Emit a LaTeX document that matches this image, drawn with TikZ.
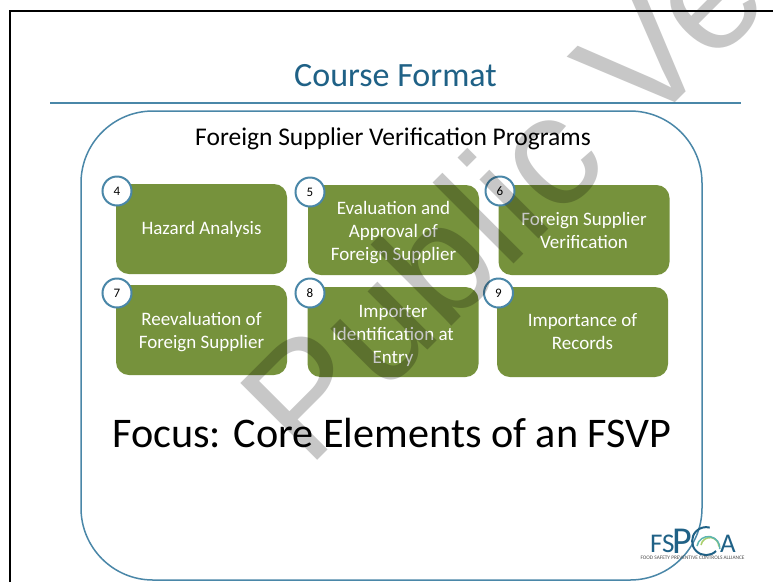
\documentclass[tikz,border=0pt]{standalone}
\usepackage{fontspec}
\setmainfont{Carlito}
\newfontfamily\wmfont{Liberation Sans}
\definecolor{titleblue}{HTML}{1F6186}
\definecolor{lineblue}{HTML}{4A87A8}
\definecolor{boxgreen}{HTML}{76923C}
\definecolor{logoteal}{HTML}{5DB5B0}
\definecolor{logogreen}{HTML}{A9CF6B}
\tikzset{
    itembox/.style={fill=boxgreen, rounded corners=13pt, minimum width=171pt, minimum height=90pt,
        inner sep=0pt, text=white, align=center, font=\fontsize{19}{23}\selectfont},
    numcircle/.style={circle, draw=lineblue, line width=2pt, fill=white, minimum size=29pt,
        inner sep=0pt, font=\fontsize{13}{13}\selectfont},
    logotype/.style={text=titleblue, anchor=base west, inner sep=0pt}
}
\begin{document}
\begin{tikzpicture}[x=1pt,y=-1pt]
    \useasboundingbox (0,0) rectangle (773,582);
    \fill[white] (0,0) rectangle (773,582);
    \draw[line width=1.5pt] (10,582) -- (10,11) -- (773,11);
    \node[text=titleblue, font=\fontsize{34}{34}\selectfont] (title) at (395.5,76) {Course Format};
    \draw[lineblue, line width=1.2pt] (50,103) -- (741,103);
    \draw[lineblue, line width=1.5pt, rounded corners=72pt] (81,111) rectangle (702,580);
    \node[font=\fontsize{25.5}{25.5}\selectfont] (heading) at (393,139) {Foreign Supplier Verification Programs};
    % first row
    \node[itembox] (hazard) at (201.5,229) {Hazard Analysis};
    \node[itembox] (approval) at (393.5,230) {\rule{0pt}{18pt}Evaluation and\\Approval of\\Foreign Supplier};
    \node[itembox] (verify) at (584,230) {Foreign Supplier\\Verification};
    % second row
    \node[itembox] (reeval) at (201.5,330) {\rule{0pt}{18pt}Reevaluation of\\Foreign Supplier};
    \node[itembox] (entry) at (393,332) {\rule{0pt}{20pt}Importer\\Identification at\\Entry};
    \node[itembox] (records) at (582.5,332) {Importance of\\Records};
    % numbers
    \node[numcircle] (n4) at (117,191) {4};
    \node[numcircle] (n5) at (310,192) {5};
    \node[numcircle] (n6) at (500,191) {6};
    \node[numcircle] (n7) at (117,293) {7};
    \node[numcircle] (n8) at (310,293) {8};
    \node[numcircle] (n9) at (498.5,293) {9};
    \node[font=\fontsize{42.2}{42}\selectfont] (focus) at (392,433) {Focus: Core Elements of an FSVP};
    % logo
    \node[logotype, font=\fontsize{27}{27}\selectfont] (logofs) at (650,552) {FS};
    \node[logotype, font=\fontsize{38}{38}\selectfont] (logop) at (672,553) {P};
    \draw[logogreen, line width=1.5pt] (701,545) arc (190:360:9);
    \draw[logoteal, line width=1.5pt] (697,546) arc (190:365:11.5);
    \draw[titleblue, line width=2pt] (716,551) arc (45:285:14);
    \node[logotype, font=\fontsize{27}{27}\selectfont] (logoa) at (720,552) {A};
    \node[text=black!70, font=\fontsize{5.3}{5.3}\selectfont] (logotext) at (692.5,558) {FOOD SAFETY PREVENTIVE CONTROLS ALLIANCE};
    % watermark
    \begin{scope}[blend mode=multiply]
    \clip (0,0) rectangle (773,582);
    \node[text=black!22, font=\wmfont\fontsize{158}{158}\selectfont, rotate=45, anchor=base west, inner sep=0pt] (stamp) at (308,470) {Public Ve};
    \end{scope}
\end{tikzpicture}
\end{document}
